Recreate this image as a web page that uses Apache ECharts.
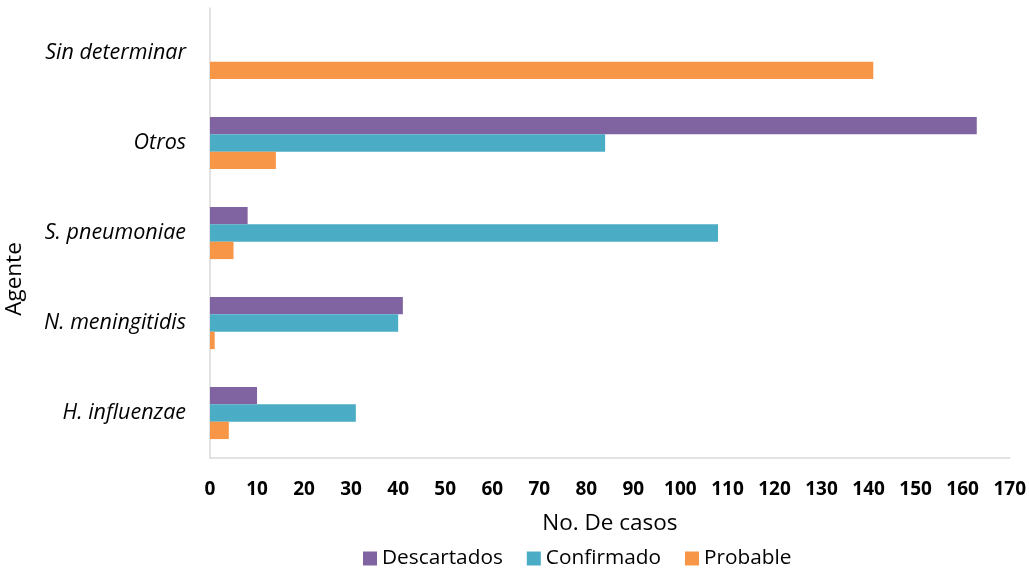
<!DOCTYPE html>
<html>
<head>
<meta charset="utf-8">
<script src="https://cdn.jsdelivr.net/npm/echarts@6/dist/echarts.min.js"></script>
<style>
  html, body { margin: 0; padding: 0; background: #ffffff; }
  #chart { width: 1029px; height: 572px; }
</style>
</head>
<body>
<div id="chart"></div>
<script>
// Agents, listed bottom to top along the category axis
const agentes = ['H. influenzae', 'N. meningitidis', 'S. pneumoniae', 'Otros', 'Sin determinar'];

// Number of cases per agent and classification
const descartados = [10, 41, 8, 163, null];
const confirmado  = [31, 40, 108, 84, null];
const probable    = [4, 1, 5, 14, 141];

const seriesNames = ['Descartados', 'Confirmado', 'Probable'];
const seriesColors = ['#8064A2', '#4BACC6', '#F79646'];

const FONT = '"Open Sans", "Liberation Sans", Arial, sans-serif';

const chart = echarts.init(document.getElementById('chart'), null, { renderer: 'canvas' });

const barSeries = [descartados, confirmado, probable].map((vals, i) => ({
  name: seriesNames[i],
  type: 'bar',
  data: vals,
  barGap: '0%',
  barCategoryGap: '42%',
  itemStyle: { color: seriesColors[i] },
  emphasis: { disabled: true }
}));

chart.setOption({
  animation: false,
  backgroundColor: '#ffffff',
  grid: { left: 210, right: 16, top: 8, bottom: 114, containLabel: false },
  xAxis: {
    type: 'value',
    min: 0,
    max: 170,
    interval: 10,
    name: 'No. De casos',
    nameLocation: 'middle',
    nameGap: 54,
    nameTextStyle: { fontFamily: FONT, fontSize: 22.5, color: '#000000' },
    axisLine: { show: true, lineStyle: { color: '#D9D9D9', width: 1.5 } },
    axisTick: { show: false },
    splitLine: { show: false },
    axisLabel: {
      margin: 22,
      fontFamily: FONT,
      fontSize: 19,
      fontWeight: 'bold',
      color: '#000000'
    }
  },
  yAxis: {
    type: 'category',
    data: agentes,
    axisLine: { show: true, lineStyle: { color: '#D9D9D9', width: 1.5 } },
    axisTick: { show: false },
    splitLine: { show: false },
    axisLabel: {
      margin: 24,
      fontFamily: FONT,
      fontSize: 21.5,
      fontStyle: 'italic',
      color: '#000000'
    }
  },
  legend: {
    data: seriesNames,
    left: 358,
    top: 543,
    itemWidth: 14,
    itemHeight: 14,
    itemGap: 24,
    icon: 'rect',
    textStyle: { fontFamily: FONT, fontSize: 20.8, color: '#000000' }
  },
  graphic: [{
    type: 'text',
    x: 15,
    y: 279,
    rotation: Math.PI / 2,
    style: {
      text: 'Agente',
      font: '22.5px ' + FONT,
      fill: '#000000',
      textAlign: 'center',
      textVerticalAlign: 'middle'
    }
  }],
  series: barSeries
});
</script>
</body>
</html>
